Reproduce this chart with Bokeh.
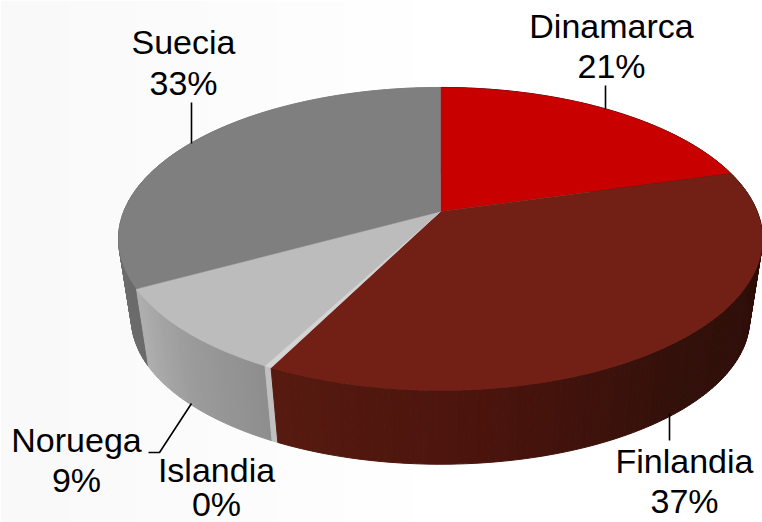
from bokeh.plotting import figure
from bokeh.embed import file_html
from bokeh.resources import INLINE
from bokeh.core.properties import value
from bokeh.models import ColumnDataSource
import math

# Data
categories = ["Dinamarca", "Finlandia", "Islandia", "Noruega", "Suecia"]
shares = [20.6, 36.8, 0.3, 9.3, 33.0]
percent_labels = ["21%", "37%", "0%", "9%", "33%"]

# Styles
top_colors = ["#c80000", "#722015", "#d4d4d4", "#bcbcbc", "#7f7f7f"]
wall_colors = [
    ("#2e0d08", "#2e0d08", "#2e0d08"),
    ("#2e0d08", "#2e0d08", "#33100a", "#4a140d", "#571a10"),
    ("#bcbcbc", "#c0c0c0", "#b4b4b4"),
    ("#8e8e8e", "#9c9c9c", "#b0b0b0"),
    ("#6a6a6a", "#7a7a7a", "#8c8c8c"),
]

# Layout: perspective projection of the pie disc
W, H = 762, 522
CX, CY = 440.0, 211.0
R, S, K = 316.7, 146.5, 0.181
BOTTOM_SCALE, BOTTOM_CY = 0.96, 292.0
TEXT_SHIFT = -13

label_x = [611, 684, 216, 76, 183]
label_y1 = [38, 473, 482, 452, 54]
label_y2 = [78, 513, 516, 492, 95]
leaders = [([605, 605], [85, 109]), ([669, 669], [413, 440]),
           ([191, 159, 148], [403, 452, 452]), ([191, 191], [102, 143])]
bg_colors = ["#f9f9f9", "#fafafa", "#fbfbfb", "#fcfcfc", "#fdfdfd", "#fefefe", "#ffffff"]


def top_pt(deg):
    t = math.radians(deg)
    u, v = math.sin(t), math.cos(t)
    w = 1 + K * v
    return CX + R * u / w, CY - S * v / w


def bottom_pt(deg):
    x, y = top_pt(deg)
    return CX + (x - CX) * BOTTOM_SCALE, BOTTOM_CY + (y - CY) * BOTTOM_SCALE


def hex2rgb(h):
    return tuple(int(h[i:i + 2], 16) for i in (1, 3, 5))


def mix(stops, f):
    f = min(max(f, 0), 1) * (len(stops) - 1)
    i = min(int(f), len(stops) - 2)
    a, b = hex2rgb(stops[i]), hex2rgb(stops[i + 1])
    g = f - i
    return "#%02x%02x%02x" % tuple(round(a[k] + (b[k] - a[k]) * g) for k in range(3))


p = figure(width=W, height=H, x_range=(0, W), y_range=(H, 0), output_backend="svg",
           toolbar_location=None, x_axis_type=None, y_axis_type=None,
           min_border=0, outline_line_color=None, background_fill_color="#ffffff",
           border_fill_color="#ffffff", margin=(0, 0, 0, 0))
p.grid.visible = False

# Background
step = 480 / len(bg_colors)
for i, c in enumerate(bg_colors):
    p.quad(left=i * step, right=(W if i == len(bg_colors) - 1 else (i + 1) * step + 1),
           top=0, bottom=H, fill_color=c, line_color=None)

# Slice angles, clockwise from the top
total = sum(shares)
edges = [0.0]
for s in shares:
    edges.append(edges[-1] + 360.0 * s / total)

# Walls
quads = []
for i, (a0, a1) in enumerate(zip(edges[:-1], edges[1:])):
    n = max(1, int((a1 - a0) / 1.0))
    for j in range(n):
        b0 = a0 + (a1 - a0) * j / n
        b1 = a0 + (a1 - a0) * (j + 1) / n
        t0, t1 = top_pt(b0), top_pt(b1)
        d0, d1 = bottom_pt(b0), bottom_pt(b1)
        depth = math.cos(math.radians((b0 + b1) / 2))
        quads.append((depth, i, (j + .5) / n,
                      [t0[0], t1[0], d1[0], d0[0]], [t0[1], t1[1], d1[1], d0[1]]))
quads.sort(key=lambda q: -q[0])
wall_src = ColumnDataSource(dict(
    xs=[q[3] for q in quads], ys=[q[4] for q in quads],
    c=[mix(wall_colors[q[1]], q[2]) for q in quads]))
p.patches("xs", "ys", source=wall_src, fill_color="c", line_color="c", line_width=1)

# Top face
for i, (a0, a1) in enumerate(zip(edges[:-1], edges[1:])):
    n = max(2, int((a1 - a0) / 0.5))
    pts = [top_pt(a0 + (a1 - a0) * j / n) for j in range(n + 1)]
    xs = [CX] + [q[0] for q in pts]
    ys = [CY] + [q[1] for q in pts]
    p.patch(xs, ys, fill_color=top_colors[i], line_color=top_colors[i], line_width=0.5)

# Leader lines
for lx, ly in leaders:
    p.line(lx, ly, line_color="#000000", line_width=1.6)

# Labels
font = value("Liberation Sans")
p.text(label_x, label_y1, text=categories, text_font=font, text_font_size="34px", y_offset=TEXT_SHIFT,
       text_color="#000000", text_align="center", text_baseline="alphabetic")
p.text(label_x, label_y2, text=percent_labels, text_font=font, text_font_size="34px", y_offset=TEXT_SHIFT,
       text_color="#000000", text_align="center", text_baseline="alphabetic")

open("out.html", "w").write(file_html(p, INLINE))
